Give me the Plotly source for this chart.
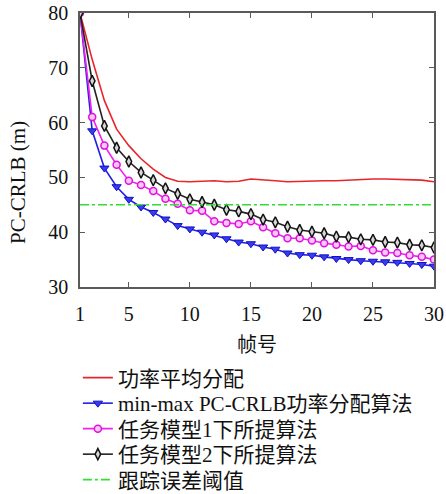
import plotly.graph_objects as go

frames = list(range(1, 31))
equal_power = [80, 71.5, 64.0, 58.8, 55.8, 53.4, 51.5, 50.0, 49.3, 49.2,
               49.3, 49.4, 49.2, 49.3, 49.7, 49.6, 49.4, 49.2, 49.3, 49.4,
               49.4, 49.4, 49.5, 49.7, 49.7, 49.7, 49.6, 49.6, 49.5, 49.2]
minmax = [80, 58.5, 51.7, 48.3, 46.0, 44.6, 43.6, 42.4, 41.2, 40.6,
          40.0, 39.5, 38.8, 38.2, 37.9, 37.3, 36.9, 36.2, 35.9, 35.8,
          35.5, 35.2, 35.0, 34.8, 34.7, 34.6, 34.5, 34.3, 34.1, 33.8]
model1 = [80, 61.0, 55.8, 52.3, 49.4, 48.6, 47.5, 46.1, 45.2, 44.0,
          43.9, 42.0, 41.7, 41.5, 42.0, 40.9, 39.8, 38.9, 38.9, 38.5,
          38.0, 37.7, 37.4, 37.5, 36.7, 36.3, 36.2, 35.8, 35.5, 35.0]
model2 = [80, 67.6, 59.4, 55.4, 52.9, 50.9, 49.5, 48.0, 47.0, 46.0,
          45.5, 45.0, 44.1, 43.8, 43.3, 42.3, 41.8, 41.0, 40.4, 40.1,
          39.8, 39.2, 39.1, 38.7, 38.6, 38.2, 38.1, 37.7, 37.6, 37.2]
threshold = [45] * 30
names = ["功率平均分配", "min-max PC-CRLB功率分配算法", "任务模型1下所提算法",
         "任务模型2下所提算法", "跟踪误差阈值"]
x_ticks = [1, 5, 10, 15, 20, 25, 30]
y_ticks = [30, 40, 50, 60, 70, 80]

FONT = "Liberation Serif, Noto Sans CJK SC, serif"

fig = go.Figure()
fig.add_trace(go.Scatter(x=frames, y=equal_power, mode="lines", name=names[0],
                         legend="legend",
                         line=dict(color="#e8252b", width=1.6)))
fig.add_trace(go.Scatter(x=frames, y=minmax, mode="lines+markers", name=names[1],
                         legend="legend2",
                         line=dict(color="#1f1fe6", width=1.6),
                         marker=dict(symbol="triangle-down", size=8, color="#3a3af0",
                                     line=dict(color="#1010c0", width=1))))
fig.add_trace(go.Scatter(x=frames, y=model1, mode="lines+markers", name=names[2],
                         legend="legend3",
                         line=dict(color="#f020f0", width=1.6),
                         marker=dict(symbol="circle", size=7, color="#f9c8f4",
                                     line=dict(color="#e010e0", width=1.5))))
fig.add_trace(go.Scatter(x=frames, y=model2, mode="lines+markers", name=names[3],
                         legend="legend4",
                         line=dict(color="#222222", width=1.6),
                         marker=dict(symbol="diamond-tall", size=8, color="#d8d8d8",
                                     line=dict(color="#111111", width=1.5))))
fig.add_trace(go.Scatter(x=frames, y=threshold, mode="lines", name=names[4],
                         legend="legend5",
                         line=dict(color="#33dd33", width=1.6, dash="dashdot")))

axis_common = dict(showgrid=False, zeroline=False, showline=True, mirror="ticks",
                   linecolor="#5a5a5a", linewidth=1.5, ticks="inside", ticklen=5,
                   tickcolor="#5a5a5a", tickwidth=1, automargin=False,
                   tickfont=dict(family=FONT, size=20, color="#111111"))
fig.update_xaxes(range=[1, 30], tickvals=x_ticks, ticktext=[str(v) for v in x_ticks],
                 ticklabelstandoff=8,
                 title=dict(text="帧号", font=dict(family=FONT, size=20, color="#111111"),
                            standoff=14),
                 **axis_common)
fig.update_yaxes(range=[30, 80], tickvals=y_ticks, ticktext=[str(v) for v in y_ticks],
                 ticklabelstandoff=6,
                 **axis_common)

fig.add_annotation(text="PC-CRLB (m)", xref="paper", yref="paper", x=-0.175, y=0.38,
                   textangle=-90, showarrow=False,
                   font=dict(family=FONT, size=21, color="#111111"),
                   xanchor="center", yanchor="middle")

W, H = 446, 494
plot_left, plot_right, plot_top, plot_bottom = 80, 434, 13, 287
ref_rows = [378, 403.5, 429, 454.5, 480]
legend_cfg = {}
for i, rp in enumerate(ref_rows):
    key = "legend" if i == 0 else f"legend{i + 1}"
    legend_cfg[key] = dict(x=-0.006,
                           y=(plot_bottom - rp) / (plot_bottom - plot_top),
                           xanchor="left", yanchor="middle",
                           font=dict(family=FONT, size=21, color="#111111"),
                           bgcolor="rgba(0,0,0,0)", borderwidth=0, itemwidth=30)

fig.update_layout(
    width=W, height=H,
    margin=dict(l=plot_left, r=W - plot_right, t=plot_top, b=H - plot_bottom,
                autoexpand=False),
    plot_bgcolor="white", paper_bgcolor="white",
    showlegend=True,
    **legend_cfg,
)

fig.write_html("out.html", config={"displayModeBar": False},
               post_script="document.body.style.margin='0';document.body.style.overflow='hidden';")
